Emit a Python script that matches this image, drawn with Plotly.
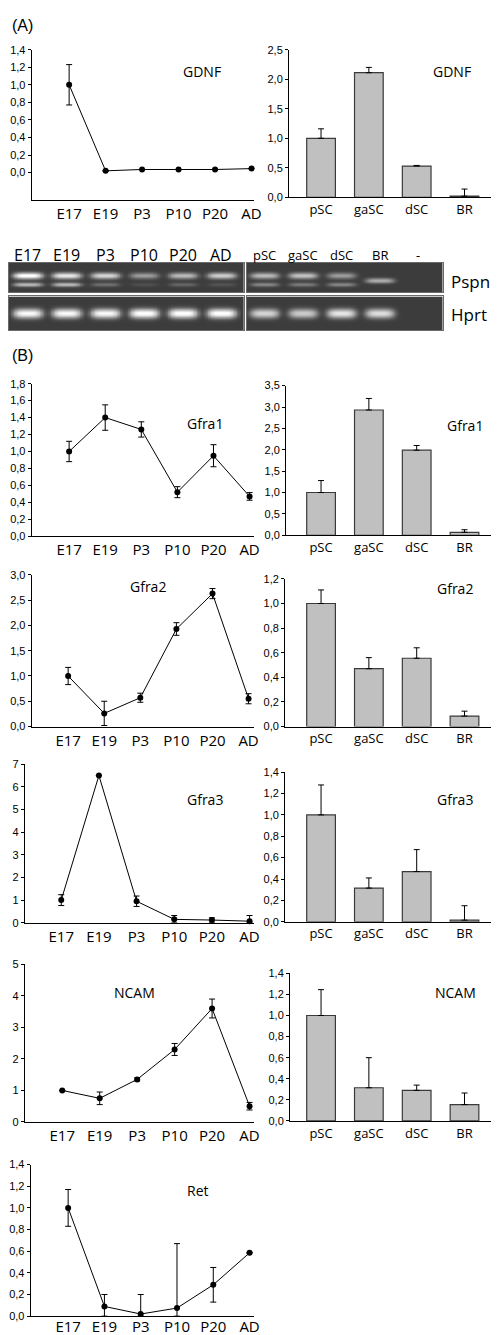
import numpy as np
import plotly.graph_objects as go

W, H = 499, 1335

# ---------------- data ----------------
stages = ["E17", "E19", "P3", "P10", "P20", "AD"]
tissues = ["pSC", "gaSC", "dSC", "BR"]
gel_tissue_lanes = ["pSC", "gaSC", "dSC", "BR", "-"]

gdnf_stage = [1.0, 0.02, 0.035, 0.035, 0.035, 0.045]
gdnf_stage_err = [0.23, 0.0, 0.0, 0.0, 0.0, 0.0]
gdnf_tissue = [1.0, 2.11, 0.53, 0.02]
gdnf_tissue_err = [0.16, 0.09, 0.01, 0.12]

gfra1_stage = [1.0, 1.40, 1.26, 0.52, 0.95, 0.47]
gfra1_stage_err = [0.12, 0.15, 0.09, 0.065, 0.13, 0.045]
gfra1_tissue = [1.0, 2.93, 1.99, 0.07]
gfra1_tissue_err = [0.28, 0.27, 0.11, 0.06]

gfra2_stage = [1.0, 0.26, 0.57, 1.93, 2.63, 0.55]
gfra2_stage_err = [0.17, 0.24, 0.09, 0.125, 0.10, 0.10]
gfra2_tissue = [1.0, 0.47, 0.555, 0.085]
gfra2_tissue_err = [0.11, 0.09, 0.085, 0.04]

gfra3_stage = [1.0, 6.5, 0.95, 0.15, 0.12, 0.07]
gfra3_stage_err = [0.24, 0.0, 0.23, 0.17, 0.10, 0.25]
gfra3_tissue = [1.0, 0.315, 0.47, 0.015]
gfra3_tissue_err = [0.28, 0.095, 0.205, 0.135]

ncam_stage = [1.0, 0.75, 1.35, 2.3, 3.6, 0.5]
ncam_stage_err = [0.0, 0.2, 0.05, 0.19, 0.3, 0.12]
ncam_tissue = [1.0, 0.315, 0.29, 0.155]
ncam_tissue_err = [0.245, 0.285, 0.05, 0.11]

ret_stage = [1.0, 0.09, 0.02, 0.075, 0.29, 0.585]
ret_stage_err = [0.17, 0.11, 0.18, 0.595, 0.16, 0.0]

# gel band intensities (0..1)
pspn_upper_stage = [1.0, 0.85, 0.75, 0.45, 0.6, 0.7]
pspn_mid_stage = [0.0, 0.0, 0.0, 0.0, 0.0, 0.0]
pspn_lower_stage = [0.6, 0.6, 0.25, 0.1, 0.2, 0.12]
hprt_stage = [0.95, 0.95, 0.95, 1.0, 1.0, 1.0]
pspn_upper_tissue = [0.6, 0.65, 0.45, 0.0, 0.0]
pspn_mid_tissue = [0.0, 0.0, 0.0, 0.55, 0.0]
pspn_lower_tissue = [0.35, 0.3, 0.35, 0.0, 0.0]
hprt_tissue = [0.75, 0.7, 0.85, 0.8, 0.0]

# ---------------- helpers ----------------
def dom_x(a, b):
    return [a / W, b / W]

def dom_y(top, bottom):
    return [1 - bottom / H, 1 - top / H]

NUMFONT = dict(family="Liberation Sans, Arial", size=11, color="black")
LBLFONT = "Open Sans, Noto Sans, sans-serif"

fig = go.Figure()
layout = dict(
    width=W, height=H, autosize=False,
    margin=dict(l=0, r=0, t=0, b=0),
    paper_bgcolor="white", plot_bgcolor="white",
    showlegend=False, separators=",.",
)
annotations = []

def yaxis_cfg(rng, tickvals, fmt):
    return dict(range=rng, tickvals=tickvals, tickformat=fmt, showline=True,
                linecolor="black", linewidth=1, ticks="outside", ticklen=3,
                tickcolor="black", tickwidth=1, showgrid=False, zeroline=False,
                tickfont=NUMFONT, fixedrange=True)

def add_line_panel(idx, vals, errs, name, px_axis, px_e17, px_sp, top, bottom,
                   yrng, tickvals, fmt, lbl_x, lbl_y, standoff=None):
    xa, ya = f"x{idx}", f"y{idx}"
    minus = [min(e, v - yrng[0]) if yrng[0] >= 0 else e for v, e in zip(vals, errs)]
    fig.add_trace(go.Scatter(
        x=stages, y=vals, xaxis=xa, yaxis=ya, mode="lines+markers",
        line=dict(color="black", width=1),
        marker=dict(size=6, color="black"),
        error_y=dict(type="data", symmetric=False, array=errs, arrayminus=minus,
                     color="black", thickness=1, width=3),
        cliponaxis=False,
    ))
    xr = [(px_axis - px_e17) / px_sp, (250 - px_e17) / px_sp]
    xcfg = dict(domain=dom_x(px_axis, 250), anchor=ya,
                type="category", range=xr, showline=True,
                linecolor="black", linewidth=1, ticks="",
                showgrid=False, zeroline=False, fixedrange=True,
                tickfont=dict(family=LBLFONT, size=15, color="black"))
    if standoff is not None:
        xcfg["ticklabelstandoff"] = standoff
    layout[f"xaxis{idx}"] = xcfg
    layout[f"yaxis{idx}"] = dict(domain=dom_y(top, bottom), anchor=xa,
                                 **yaxis_cfg(yrng, tickvals, fmt))
    annotations.append(dict(text=name, x=lbl_x / W, y=1 - lbl_y / H, xref="paper",
                            yref="paper", showarrow=False, xanchor="center",
                            yanchor="middle", font=dict(family=LBLFONT, size=14, color="black")))

def add_bar_panel(idx, vals, errs, name, px_axis, top, bottom, yrng, tickvals, fmt,
                  lbl_x, lbl_y, px_first=317.5, px_sp=48.5):
    xa, ya = f"x{idx}", f"y{idx}"
    fig.add_trace(go.Bar(
        x=tissues, y=vals, xaxis=xa, yaxis=ya, width=0.6,
        marker=dict(color="#c0c0c0", line=dict(color="#3a3a3a", width=1.2)),
        error_y=dict(type="data", symmetric=False, array=errs,
                     arrayminus=[0] * len(errs), color="black", thickness=1, width=3),
    ))
    xr = [(px_axis - px_first) / px_sp, (498 - px_first) / px_sp]
    layout[f"xaxis{idx}"] = dict(domain=dom_x(px_axis, 498), anchor=ya,
                                 type="category", range=xr, showline=True,
                                 linecolor="black", linewidth=1, ticks="",
                                 showgrid=False, zeroline=False, fixedrange=True,
                                 tickfont=dict(family=LBLFONT, size=13, color="black"))
    layout[f"yaxis{idx}"] = dict(domain=dom_y(top, bottom), anchor=xa,
                                 **yaxis_cfg(yrng, tickvals, fmt))
    annotations.append(dict(text=name, x=lbl_x / W, y=1 - lbl_y / H, xref="paper",
                            yref="paper", showarrow=False, xanchor="center",
                            yanchor="middle", font=dict(family=LBLFONT, size=14, color="black")))

t02_14 = [round(0.2 * i, 1) for i in range(8)]
t02_12 = [round(0.2 * i, 1) for i in range(7)]
t02_18 = [round(0.2 * i, 1) for i in range(10)]
t05_25 = [round(0.5 * i, 1) for i in range(6)]
t05_30 = [round(0.5 * i, 1) for i in range(7)]
t05_35 = [round(0.5 * i, 1) for i in range(8)]

# (A) GDNF
add_line_panel(1, gdnf_stage, gdnf_stage_err, "GDNF", 24, 62, 37, 36, 188,
               [-0.316, 1.4], t02_14, ".1f", 197, 58)
add_bar_panel(2, gdnf_tissue, gdnf_tissue_err, "GDNF", 285, 36, 185,
              [0, 2.5], t05_25, ".1f", 450, 58)
# (B)
add_line_panel(3, gfra1_stage, gfra1_stage_err, "Gfra1", 24, 62, 36.6, 373, 527,
               [0, 1.8], t02_18, ".1f", 200, 413)
add_bar_panel(4, gfra1_tissue, gfra1_tissue_err, "Gfra1", 282, 375, 526,
              [0, 3.5], t05_35, ".1f", 463, 415)
add_line_panel(5, gfra2_stage, gfra2_stage_err, "Gfra2", 24, 61, 36.6, 566, 719,
               [0, 3.0], t05_30, ".1f", 142, 578)
add_bar_panel(6, gfra2_tissue, gfra2_tissue_err, "Gfra2", 281, 570, 719,
              [0, 1.2], t02_12, ".1f", 453, 580)
add_line_panel(7, gfra3_stage, gfra3_stage_err, "Gfra3", 17, 54, 38.2, 757, 917,
               [0, 7], list(range(8)), "d", 200, 793)
add_bar_panel(8, gfra3_tissue, gfra3_tissue_err, "Gfra3", 281, 765, 916,
              [0, 1.4], t02_14, ".1f", 453, 793)
add_line_panel(9, ncam_stage, ncam_stage_err, "NCAM", 17, 55, 38, 959, 1118,
               [0, 5], list(range(6)), "d", 128, 987)
add_bar_panel(10, ncam_tissue, ncam_tissue_err, "NCAM", 286, 968, 1117,
              [0, 1.4], t02_14, ".1f", 454, 987)
add_line_panel(11, ret_stage, ret_stage_err, "Ret", 23, 61, 36.8, 1161, 1314,
               [0, 1.4], t02_14, ".1f", 193, 1187, standoff=-3)

# ---------------- gel (RT-PCR) ----------------
GEL_CS = [[0.0, "#363636"], [0.08, "#424242"], [0.5, "#a0a0a0"], [1.0, "#ffffff"]]

def gel_z(xs, ys, rows):
    X, Y = np.meshgrid(xs, ys)
    z = np.full(X.shape, 0.04)
    for yc, sig, ints in rows:
        for i, inten in enumerate(ints):
            if inten <= 0:
                continue
            z += inten * np.exp(-((X - i) / 0.38) ** 4) * np.exp(-((Y - yc) / sig) ** 2)
    return np.clip(z, 0, 1)

def add_gel(idx, ints_rows, px_l, px_r, top, bottom, first_px, sp_px):
    xa, ya = f"x{idx}", f"y{idx}"
    x0 = (px_l - first_px) / sp_px
    x1 = (px_r - first_px) / sp_px
    xs = np.linspace(x0, x1, 300)
    hh = bottom - top
    ys = np.linspace(0, hh, 80)
    z = gel_z(xs, ys, ints_rows)
    fig.add_trace(go.Heatmap(x=xs, y=ys, z=z, xaxis=xa, yaxis=ya, colorscale=GEL_CS,
                             zmin=0, zmax=1, showscale=False, hoverinfo="skip",
                             zsmooth="best"))
    layout[f"xaxis{idx}"] = dict(domain=dom_x(px_l, px_r), anchor=ya, range=[x0, x1],
                                 visible=True, showticklabels=False, ticks="",
                                 showgrid=False, zeroline=False, showline=True,
                                 mirror=True, linecolor="#6a6a6a", linewidth=1,
                                 fixedrange=True)
    layout[f"yaxis{idx}"] = dict(domain=dom_y(top, bottom), anchor=xa, range=[hh, 0],
                                 showticklabels=False, ticks="", showgrid=False,
                                 zeroline=False, showline=True, mirror=True,
                                 linecolor="#6a6a6a", linewidth=1, fixedrange=True)

# left gel: lanes at 20 px + 39.3 px steps; right gel: 260 px + 39 px steps
add_gel(12, [(13, 3.2, pspn_upper_stage), (18, 2.5, pspn_mid_stage), (22, 2.2, pspn_lower_stage)],
        1, 239, 251, 281, 20, 39.3)
add_gel(13, [(13, 3.2, pspn_upper_tissue), (18, 2.6, pspn_mid_tissue), (22, 2.2, pspn_lower_tissue)],
        242, 441, 251, 281, 260, 39)
add_gel(14, [(17, 4.8, hprt_stage)], 1, 239, 285, 319, 20, 39.3)
add_gel(15, [(17, 4.8, hprt_tissue)], 242, 441, 285, 319, 260, 39)

for i, s in enumerate(stages):
    annotations.append(dict(text=s, x=i, xref="x12", y=1 - 243 / H, yref="paper",
                            showarrow=False, xanchor="center", yanchor="middle",
                            font=dict(family=LBLFONT, size=16, color="black")))
for i, s in enumerate(gel_tissue_lanes):
    annotations.append(dict(text=s, x=i, xref="x13", y=1 - 243 / H, yref="paper",
                            showarrow=False, xanchor="center", yanchor="middle",
                            font=dict(family=LBLFONT, size=13, color="black")))
for txt, py in [("Pspn", 270), ("Hprt", 303)]:
    annotations.append(dict(text=txt, x=447 / W, y=1 - py / H, xref="paper", yref="paper",
                            showarrow=False, xanchor="left", yanchor="middle",
                            font=dict(family=LBLFONT, size=17, color="black")))

for txt, py in [("(A)", 12), ("(B)", 345)]:
    annotations.append(dict(text=txt, x=2 / W, y=1 - py / H, xref="paper", yref="paper",
                            showarrow=False, xanchor="left", yanchor="middle",
                            font=dict(family="Liberation Sans, Arial", size=16, color="black")))

layout["annotations"] = annotations
fig.update_layout(**layout)
fig.write_html("out.html")
